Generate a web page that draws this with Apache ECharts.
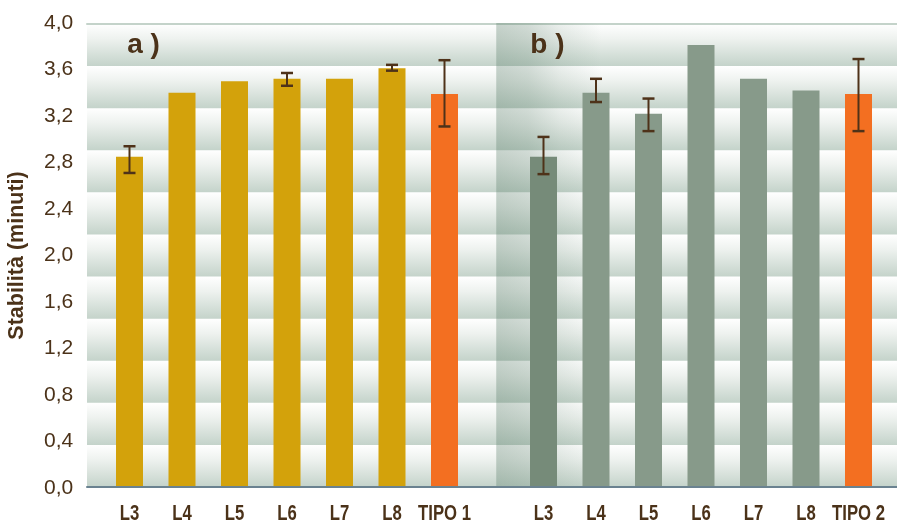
<!DOCTYPE html>
<html>
<head>
<meta charset="utf-8">
<script src="https://cdn.jsdelivr.net/npm/echarts@6/dist/echarts.min.js"></script>
<style>
  html, body { margin: 0; padding: 0; background: #ffffff; }
  #chart { width: 897px; height: 523px; }
</style>
</head>
<body>
<div id="chart"></div>
<script>
// Stability (minutes) per line, two trials a) and b)
const categoriesA = ['L3', 'L4', 'L5', 'L6', 'L7', 'L8', 'TIPO 1'];
const categoriesB = ['L3', 'L4', 'L5', 'L6', 'L7', 'L8', 'TIPO 2'];
const valuesA = [2.85, 3.40, 3.50, 3.52, 3.52, 3.61, 3.39];
const valuesB = [2.85, 3.40, 3.22, 3.81, 3.52, 3.42, 3.39];
// error bar bounds (null = no error bar)
const errLowA  = [2.71, null, null, 3.46, null, 3.59, 3.11];
const errHighA = [2.94, null, null, 3.57, null, 3.64, 3.68];
const errLowB  = [2.70, 3.32, 3.07, null, null, null, 3.07];
const errHighB = [3.02, 3.52, 3.35, null, null, null, 3.69];
const panelLabels = ['a )', 'b )'];
const yTitle = 'Stabilità (minuti)';

const TEXT = '#4b3219';
const GOLD = '#d3a20b';
const ORANGE = '#f36f21';
const SAGE = '#879a8a';
const SAGE_DARK = '#768b79';
const SANS = "'Liberation Sans', Arial, sans-serif";

const chart = echarts.init(document.getElementById('chart'), null, { renderer: 'canvas' });

function errorSeries(axisIdx, low, high) {
  return {
    type: 'custom',
    xAxisIndex: axisIdx,
    yAxisIndex: axisIdx,
    z: 5,
    silent: true,
    encode: { x: 0, y: [1, 2] },
    data: low.map((l, i) => [i, l, high[i]]).filter(d => d[1] != null),
    renderItem(params, api) {
      const i = api.value(0);
      const lo = api.coord([i, api.value(1)]);
      const hi = api.coord([i, api.value(2)]);
      const half = 6;
      const stem = { stroke: '#4e3219', lineWidth: 2 };
      const cap = { stroke: '#4e3219', lineWidth: 2.5 };
      return {
        type: 'group',
        children: [
          { type: 'line', shape: { x1: lo[0], y1: hi[1], x2: lo[0], y2: lo[1] }, style: stem },
          { type: 'line', shape: { x1: lo[0] - half, y1: hi[1], x2: lo[0] + half, y2: hi[1] }, style: cap },
          { type: 'line', shape: { x1: lo[0] - half, y1: lo[1], x2: lo[0] + half, y2: lo[1] }, style: cap }
        ]
      };
    }
  };
}

// category labels are drawn below as condensed text, so the axis itself shows none
function catAxis(grid, cats) {
  return {
    type: 'category', gridIndex: grid, data: cats,
    axisLine: { show: false }, axisTick: { show: false },
    axisLabel: { show: false }, splitLine: { show: false }
  };
}

const bandFill = new echarts.graphic.LinearGradient(0, 0, 0, 1, [
  { offset: 0, color: '#ffffff' },
  { offset: 0.35, color: '#eef2ef' },
  { offset: 1, color: '#c4d3ca' }
]);

const option = {
  animation: false,
  backgroundColor: '#ffffff',
  grid: [
    { left: 103.25, top: 23, width: 367.5, bottom: 35 },
    { left: 517.25, top: 23, width: 367.5, bottom: 35 },
    { left: 87, top: 24, right: 0, bottom: 36 }
  ],
  xAxis: [
    catAxis(0, categoriesA),
    catAxis(1, categoriesB),
    { type: 'value', gridIndex: 2, min: 0, max: 1, position: 'bottom', z: 3,
      axisLine: { show: true, lineStyle: { color: '#6a8290', width: 2 } },
      axisTick: { show: false }, axisLabel: { show: false }, splitLine: { show: false } },
    { type: 'value', gridIndex: 2, min: 0, max: 1, position: 'top',
      axisLine: { show: true, lineStyle: { color: '#c4d3ca', width: 2 } },
      axisTick: { show: false }, axisLabel: { show: false }, splitLine: { show: false } }
  ],
  yAxis: [
    { type: 'value', gridIndex: 0, min: 0, max: 4, interval: 0.4,
      name: yTitle, nameLocation: 'middle', nameGap: 75,
      nameTextStyle: { color: TEXT, fontWeight: 'bold', fontSize: 21.5, fontFamily: SANS },
      axisLine: { show: false }, axisTick: { show: false }, splitLine: { show: false },
      axisLabel: { color: TEXT, fontSize: 21, margin: 30, fontFamily: SANS,
        formatter: v => v.toFixed(1).replace('.', ',') } },
    { type: 'value', gridIndex: 1, min: 0, max: 4, interval: 0.4, show: false },
    { type: 'value', gridIndex: 2, min: 0, max: 11, interval: 1,
      axisLine: { show: false }, axisTick: { show: false }, axisLabel: { show: false },
      splitLine: { show: false },
      splitArea: { show: true, areaStyle: { color: [bandFill] } } }
  ],
  series: [
    { type: 'bar', xAxisIndex: 0, yAxisIndex: 0, barWidth: 27, z: 2,
      data: valuesA,
      itemStyle: { color: p => p.name.startsWith('TIPO') ? ORANGE : GOLD } },
    { type: 'bar', xAxisIndex: 1, yAxisIndex: 1, barWidth: 27, z: 2,
      data: valuesB,
      itemStyle: { color: p => p.name.startsWith('TIPO') ? ORANGE : (p.dataIndex === 0 ? SAGE_DARK : SAGE) } },
    errorSeries(0, errLowA, errHighA),
    errorSeries(1, errLowB, errHighB)
  ]
};

chart.setOption(option);

const gA = chart.getModel().getComponent('grid', 0).coordinateSystem.getRect();
const gB = chart.getModel().getComponent('grid', 1).coordinateSystem.getRect();
const gBg = chart.getModel().getComponent('grid', 2).coordinateSystem.getRect();

// condensed bold category labels, placed at each category's axis position
function categoryTexts(axisIdx, cats) {
  return cats.map((name, i) => {
    const px = chart.convertToPixel({ xAxisIndex: axisIdx }, i);
    return {
      type: 'text', z: 6, silent: true,
      x: px, y: gA.y + gA.height + 26, scaleX: 0.76,
      style: { text: name, fill: TEXT, align: 'center', verticalAlign: 'middle',
        font: "bold 22px " + SANS }
    };
  });
}

chart.setOption({
  graphic: [
    // soft shadow at the start of panel b
    { type: 'rect', z: 1, silent: true,
      shape: { x: gB.x - 21, y: gBg.y - 1, width: 105, height: gBg.height + 1 },
      style: { fill: new echarts.graphic.LinearGradient(0, 0, 1, 0, [
        { offset: 0, color: 'rgba(90,125,105,0.34)' },
        { offset: 0.3, color: 'rgba(90,125,105,0.27)' },
        { offset: 0.6, color: 'rgba(90,125,105,0.12)' },
        { offset: 1, color: 'rgba(90,125,105,0)' }
      ]) } },
    { type: 'text', z: 6, left: gA.x + 24, top: 31,
      style: { text: panelLabels[0], fill: TEXT, font: "bold 28px " + SANS } },
    { type: 'text', z: 6, left: gB.x + 13, top: 31,
      style: { text: panelLabels[1], fill: TEXT, font: "bold 28px " + SANS } }
  ].concat(categoryTexts(0, categoriesA), categoryTexts(1, categoriesB))
});
</script>
</body>
</html>
